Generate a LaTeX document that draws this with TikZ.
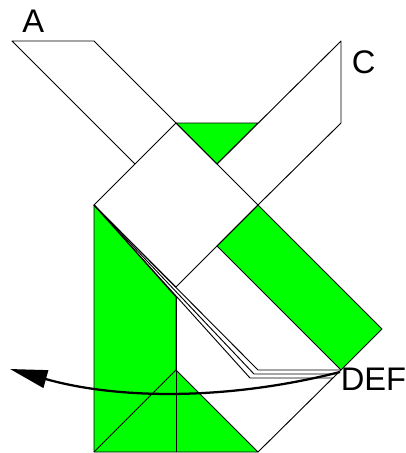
\documentclass[tikz,border=0pt]{standalone}
\usepackage{fontspec}
\setmainfont{Liberation Sans}
\usetikzlibrary{arrows.meta}
\definecolor{foldgreen}{RGB}{0,255,0}

\begin{document}
\begin{tikzpicture}[
    x=0.75pt, y=-0.75pt,
    every node/.style={inner sep=0pt, anchor=base west, font=\fontsize{24.5}{28}\selectfont},
    edge/.style={draw=black, line width=0.7pt, line join=round},
    panel/.style={fill=foldgreen, edge},
    sweep/.style={draw=black, line width=1.7pt, -{Triangle[length=28pt, width=13.5pt]}}
]
\useasboundingbox (0,0) rectangle (406,453);

% Coordinates
\coordinate (top) at (176,123);
\coordinate (left) at (94,205);
\coordinate (right) at (258,205);
\coordinate (low) at (176,287);
\coordinate (notch) at (176,297);
\coordinate (apex) at (176,370);
\coordinate (corner) at (341,370);
\coordinate (baseleft) at (94,452);
\coordinate (basemid) at (176,452);
\coordinate (baseright) at (258,452);
\coordinate (tipend) at (10,369);

% Green panels
\path[panel] (top) -- (258,123) -- (217,164) -- cycle;
\path[panel] (right) -- (382,329) -- (corner) -- (217,246) -- cycle;
\path[panel] (left) -- (notch) -- (apex) -- (baseright) -- (baseleft) -- cycle;

% Strips
\draw[edge] (135,164) -- (12,41) -- (94,41) -- (top);
\draw[edge] (217,164) -- (341,41) -- (341,123) -- (right);

% Square
\draw[edge] (top) -- (right) -- (low) -- (left) -- cycle;

% Folds
\draw[edge] (left) -- (258,370) -- (corner);
\draw[edge] (left) -- (254,374) -- (337,374);
\draw[edge] (left) -- (250,378) -- (333,378);
\draw[edge] (notch) -- (basemid);
\draw[edge] (baseleft) -- (apex);
\draw[edge] (baseright) -- (corner);

% Labels
\node (labela) at (22,33) {A};
\node (labelc) at (351.5,73.5) {C};
\node (labeldef) at (340.5,390) {DEF};

% Arrow
\draw[sweep] (340,372) .. controls (230,400) and (120,400) .. (tipend);

\end{tikzpicture}
\end{document}
